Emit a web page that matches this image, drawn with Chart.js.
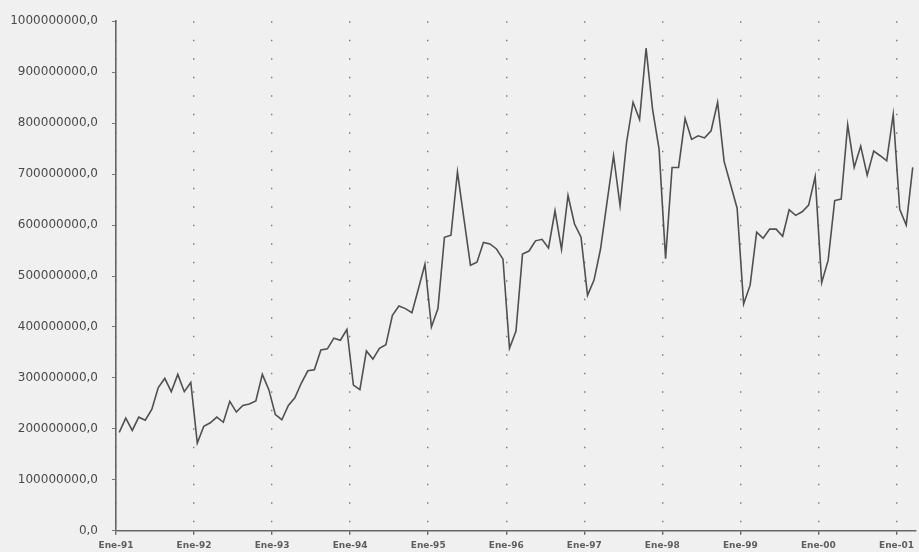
<!DOCTYPE html>
<html lang="es">
<head>
<meta charset="utf-8">
<title>Serie mensual 1991-2001</title>
<script src="https://cdn.jsdelivr.net/npm/chart.js@4.4.1/dist/chart.umd.min.js"></script>
<style>
  html, body { margin: 0; padding: 0; background: #f0f0f0; }
  #wrap { width: 919px; height: 552px; position: relative; }
</style>
</head>
<body>
<div id="wrap"><canvas id="grafico" width="919" height="552"></canvas></div>
<script>
// Serie mensual, enero 1991 a marzo 2001 (valores en millones)
const valoresMillones = [
  193, 221, 197, 223, 217, 238, 281, 299, 273, 307, 273, 291,   // 1991
  172, 205, 212, 223, 213, 254, 233, 246, 249, 255, 307, 277,   // 1992
  228, 218, 246, 261, 290, 314, 316, 355, 357, 378, 374, 395,   // 1993
  286, 277, 353, 337, 358, 365, 423, 441, 436, 428, 475, 523,   // 1994
  400, 436, 576, 580, 704, 612, 521, 527, 566, 563, 553, 533,   // 1995
  358, 392, 543, 549, 569, 572, 555, 628, 552, 658, 602, 576,   // 1996
  462, 492, 553, 645, 736, 638, 762, 841, 807, 947, 827, 749,   // 1997
  534, 713, 713, 809, 768, 775, 771, 785, 841, 725, 679, 633,   // 1998
  445, 482, 586, 574, 592, 592, 578, 630, 619, 626, 639, 695,   // 1999
  487, 531, 648, 651, 797, 713, 755, 698, 745, 736, 726, 817,   // 2000
  631, 600, 713                                                 // 2001
];
const etiquetasAnios = ['Ene-91', 'Ene-92', 'Ene-93', 'Ene-94', 'Ene-95', 'Ene-96',
                        'Ene-97', 'Ene-98', 'Ene-99', 'Ene-00', 'Ene-01'];
const marcasEjeY = [0, 100000000, 200000000, 300000000, 400000000, 500000000,
                    600000000, 700000000, 800000000, 900000000, 1000000000];

// each month sits in the middle of its slot; year ticks mark slot boundaries
const puntos = valoresMillones.map((v, i) => ({ x: i + 0.5, y: v * 1e6 }));
const totalMeses = valoresMillones.length;

const fondo = {
  id: 'fondo',
  beforeDraw(chart) {
    const c = chart.ctx;
    c.save();
    c.fillStyle = '#f0f0f0';
    c.fillRect(0, 0, chart.width, chart.height);
    c.restore();
  }
};

new Chart(document.getElementById('grafico'), {
  type: 'line',
  data: {
    datasets: [{
      data: puntos,
      borderColor: '#505050',
      borderWidth: 1.6,
      pointRadius: 0,
      tension: 0,
      fill: false
    }]
  },
  options: {
    responsive: false,
    animation: false,
    events: [],
    layout: { padding: { top: 11, right: 3, left: 0, bottom: 0 } },
    plugins: { legend: { display: false }, tooltip: { enabled: false } },
    scales: {
      x: {
        type: 'linear',
        min: 0,
        max: totalMeses,
        afterBuildTicks(scale) {
          scale.ticks = etiquetasAnios.map((_, k) => ({ value: k * 12 }));
        },
        afterFit(scale) { scale.height = 21; },
        ticks: {
          autoSkip: false,
          maxRotation: 0,
          padding: 5,
          color: '#5e5e5e',
          font: { family: 'DejaVu Sans', size: 9, weight: 'bold' },
          callback: (v) => etiquetasAnios[Math.round(v / 12)] ?? ''
        },
        grid: {
          color: '#7a7a7a',
          lineWidth: 1.4,
          tickLength: 4,
          tickColor: '#666666',
          tickBorderDash: [],
          drawOnChartArea: true
        },
        border: { display: true, color: '#666666', width: 1.6, dash: [1.5, 17] }
      },
      y: {
        min: 0,
        max: 1000000000,
        afterBuildTicks(scale) {
          scale.ticks = marcasEjeY.map(v => ({ value: v }));
        },
        afterFit(scale) { scale.width = 116; },
        ticks: {
          padding: 14,
          color: '#4a4a4a',
          font: { family: 'DejaVu Sans', size: 12 },
          callback: (v) => String(v) + ',0'
        },
        grid: {
          drawOnChartArea: false,
          tickLength: 4,
          tickColor: '#777777'
        },
        border: { display: true, color: '#666666', width: 1.6 }
      }
    }
  },
  plugins: [fondo]
});
</script>
</body>
</html>
